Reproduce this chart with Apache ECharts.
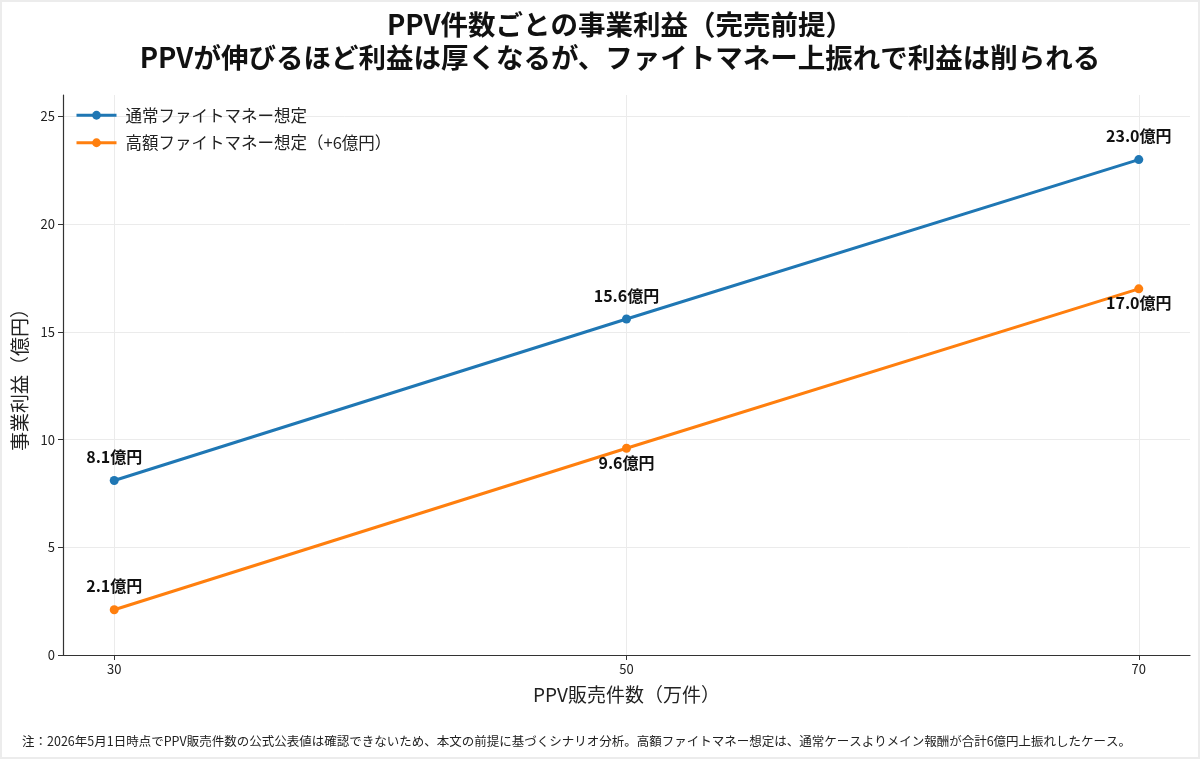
<!DOCTYPE html>
<html>
<head>
<meta charset="utf-8" />
<title>PPV件数ごとの事業利益</title>
<script src="https://cdn.jsdelivr.net/npm/echarts@6/dist/echarts.min.js"></script>
<style>
  html, body { margin: 0; padding: 0; background: #ffffff; }
  #chart { width: 1200px; height: 759px; box-sizing: border-box; border: 2px solid #ececec; }
</style>
</head>
<body>
<div id="chart"></div>
<script>
var ppvSales = [30, 50, 70];
var normalProfit = [8.1, 15.6, 23.0];
var highProfit = [2.1, 9.6, 17.0];
var xTicks = [30, 50, 70];
var yTicks = [0, 5, 10, 15, 20, 25];
var seriesNames = ['通常ファイトマネー想定', '高額ファイトマネー想定（+6億円）'];
var titleLines = ['PPV件数ごとの事業利益（完売前提）', 'PPVが伸びるほど利益は厚くなるが、ファイトマネー上振れで利益は削られる'];
var note = '注：2026年5月1日時点でPPV販売件数の公式公表値は確認できないため、本文の前提に基づくシナリオ分析。高額ファイトマネー想定は、通常ケースよりメイン報酬が合計6億円上振れしたケース。';

var font = '"Noto Sans CJK JP", "Noto Sans", sans-serif';

function pairs(xs, ys) {
  return xs.map(function (x, i) { return [x, ys[i]]; });
}

// 高額ケースは 30 だけ上、50 と 70 は下にラベル
function highData() {
  return pairs(ppvSales, highProfit).map(function (p, i) {
    var below = i > 0;
    return {
      value: p,
      label: { position: below ? 'bottom' : 'top', distance: below ? 2 : 11 }
    };
  });
}

function yen(p) { return p.value[1].toFixed(1) + '億円'; }

var chart = echarts.init(document.getElementById('chart'), null, { renderer: 'canvas' });
chart.setOption({
  backgroundColor: '#ffffff',
  textStyle: { fontFamily: font },
  legend: {
    left: 68,
    top: 100,
    orient: 'vertical',
    itemWidth: 40,
    itemHeight: 11,
    itemGap: 11,
    lineStyle: { width: 3 },
    textStyle: { fontSize: 16.5, color: '#222', fontFamily: font, padding: [0, 0, 0, 4] },
    data: seriesNames
  },
  grid: { left: 61, right: 8, top: 93, bottom: 102 },
  xAxis: {
    type: 'value',
    min: 28,
    max: 72,
    name: 'PPV販売件数（万件）',
    nameLocation: 'middle',
    nameGap: 30,
    nameTextStyle: { fontSize: 19, color: '#222', fontFamily: font },
    axisLine: { lineStyle: { color: '#333', width: 1.2 } },
    axisTick: { show: true, length: 5, customValues: xTicks, lineStyle: { color: '#333' } },
    axisLabel: { customValues: xTicks, fontSize: 13, color: '#222', margin: 8 },
    splitLine: { show: true, lineStyle: { color: '#ebebeb', width: 1 } }
  },
  yAxis: {
    type: 'value',
    min: 0,
    max: 26,
    name: '事業利益（億円）',
    nameLocation: 'middle',
    nameGap: 34,
    nameTextStyle: { fontSize: 19, color: '#222', fontFamily: font },
    axisLine: { show: true, lineStyle: { color: '#333', width: 1.2 } },
    axisTick: { show: true, length: 5, customValues: yTicks, lineStyle: { color: '#333' } },
    axisLabel: { customValues: yTicks, fontSize: 13, color: '#222', margin: 8 },
    splitLine: { show: true, lineStyle: { color: '#ebebeb', width: 1 } }
  },
  series: [
    {
      name: seriesNames[0],
      type: 'line',
      data: pairs(ppvSales, normalProfit),
      symbol: 'circle',
      symbolSize: 9,
      lineStyle: { width: 3, color: '#1f77b4' },
      itemStyle: { color: '#1f77b4' },
      label: {
        show: true,
        position: 'top',
        distance: 11,
        fontSize: 16,
        fontWeight: 'bold',
        color: '#111',
        fontFamily: font,
        formatter: yen
      },
      z: 3
    },
    {
      name: seriesNames[1],
      type: 'line',
      data: highData(),
      symbol: 'circle',
      symbolSize: 9,
      lineStyle: { width: 3, color: '#ff7f0e' },
      itemStyle: { color: '#ff7f0e' },
      label: {
        show: true,
        fontSize: 16,
        fontWeight: 'bold',
        color: '#111',
        fontFamily: font,
        formatter: yen
      },
      z: 4
    }
  ],
  graphic: [
    {
      type: 'text',
      x: 618,
      y: 6,
      style: {
        text: titleLines.join('\n'),
        align: 'center',
        verticalAlign: 'top',
        fontSize: 27.5,
        lineHeight: 33,
        fontWeight: 'bold',
        fill: '#111',
        fontFamily: font
      }
    },
    {
      type: 'text',
      left: 20,
      top: 733,
      style: {
        text: note,
        fontSize: 12.5,
        fill: '#222',
        fontFamily: font
      }
    }
  ]
});
</script>
</body>
</html>
